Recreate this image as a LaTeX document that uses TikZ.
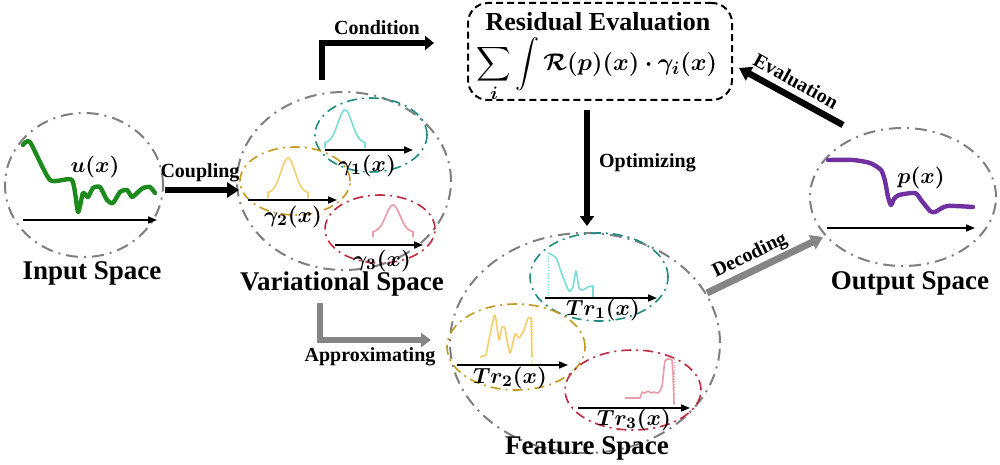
\documentclass[tikz,border=0pt]{standalone}
\usepackage{fontspec}
\setmainfont{Liberation Serif}
\usepackage{amsmath,bm}
\usetikzlibrary{arrows.meta,shapes.geometric}
\definecolor{dgray}{HTML}{7F7F7F}
\definecolor{agray}{HTML}{858585}
\definecolor{tealD}{HTML}{1E8C80}
\definecolor{tealL}{HTML}{7ADDD3}
\definecolor{goldD}{HTML}{C49A1E}
\definecolor{goldL}{HTML}{F3CF6C}
\definecolor{redD}{HTML}{C0283E}
\definecolor{redL}{HTML}{EB9AA8}
\definecolor{grn}{HTML}{1E8A1E}
\definecolor{purp}{HTML}{7030A0}
\begin{document}
\begin{tikzpicture}[x=0.5pt,y=-0.5pt,
  spaceell/.style={ellipse, inner sep=0pt, draw=dgray, line width=1pt, dash pattern=on 6pt off 3pt on 1pt off 3pt},
  subell/.style={ellipse, inner sep=0pt, line width=0.8pt, dash pattern=on 5pt off 2.5pt on 1pt off 2.5pt},
  axis/.style={-{Triangle[length=4.5pt,width=3.5pt]}, line width=0.8pt},
  title/.style={font=\fontsize{13.5}{16}\selectfont\bfseries},
  lab/.style={font=\fontsize{10}{12}\selectfont\bfseries},
  mlab/.style={font=\fontsize{11}{13}\selectfont},
  bigarrow/.style={line width=3pt, -{Triangle[length=6pt,width=7.5pt]}},
  grayarrow/.style={line width=3pt, draw=agray, -{Triangle[length=5pt,width=7pt]}, color=agray},
  thin curve/.style={line width=0.8pt, line join=round},
  guide/.style={line width=0.4pt, densely dotted}
]
\useasboundingbox (0,0) rectangle (1000,465);

% ---------- Input space ----------
\node[spaceell, minimum width=79pt, minimum height=72pt] (inp) at (84,185) {};
\draw[grn, line width=2.2pt, line join=round, line cap=round] plot[smooth, tension=0.35] coordinates
 {(23,145) (30,142) (50,180) (72,180) (78,212) (83,193) (88,197) (93,188) (100,187) (107,200) (113,203) (120,192) (127,190) (132,197) (137,193) (143,188) (150,187) (155,193)};
\coordinate (inA) at (23,220); \coordinate (inB) at (157,220);
\draw[axis] (inA) -- (inB);
\node[mlab] (ulab) at (95,167) {$\bm{u(x)}$};
\node[title] (inT) at (92,273) {Input Space};

% ---------- Variational space ----------
\node[spaceell, minimum width=107pt, minimum height=89pt] (var) at (344,181) {};
\node[subell, draw=tealD, minimum width=56pt, minimum height=37pt] (g1) at (371,135) {};
\node[subell, draw=goldD, minimum width=55pt, minimum height=34pt] (g2) at (295,181) {};
\node[subell, draw=redD, minimum width=55pt, minimum height=34pt] (g3) at (380,229) {};
% bells
\draw[tealL, thin curve] (325,148) -- (325,143) -- plot[domain=-20:20, samples=41] ({345+\x},{143-33*exp(-(\x/10)^2)}) -- (365,148);
\draw[goldL, thin curve] (268,198) -- (268,193) -- plot[domain=-20:20, samples=41] ({288+\x},{193-35*exp(-(\x/10)^2)}) -- (308,198);
\draw[redL, thin curve] (373,237) -- (373,232) -- plot[domain=-20:20, samples=41] ({393+\x},{232-27*exp(-(\x/10)^2)}) -- (413,237);
\coordinate (a1s) at (325,150); \coordinate (a1e) at (413,150);
\coordinate (a2s) at (248,200); \coordinate (a2e) at (337,200);
\coordinate (a3s) at (335,245); \coordinate (a3e) at (423,245);
\draw[axis] (a1s) -- (a1e);
\draw[axis] (a2s) -- (a2e);
\draw[axis] (a3s) -- (a3e);
\node[mlab] (g1l) at (367,166) {$\bm{\gamma_1(x)}$};
\node[mlab] (g2l) at (293,217) {$\bm{\gamma_2(x)}$};
\node[mlab] (g3l) at (382,261) {$\bm{\gamma_3(x)}$};
\node[title] (varT) at (342,284) {Variational Space};

% ---------- Residual evaluation ----------
\node[draw, line width=1pt, dash pattern=on 3.5pt off 2pt, rounded corners=10pt, minimum width=132pt, minimum height=48.5pt] (resid) at (600,51.5) {};
\node[font=\fontsize{13}{15}\selectfont\bfseries] (residT) at (598,22) {Residual Evaluation};
\node[font=\fontsize{12.5}{14}\selectfont, inner sep=0pt] (formula) at (597,70) {$\displaystyle\sum_{\bm{i}}\int \bm{\mathcal{R}(p)(x)\cdot\gamma_i(x)}$};

% ---------- Feature space ----------
\node[spaceell, minimum width=135pt, minimum height=110pt] (feat) at (585,343) {};
\node[subell, draw=tealD, minimum width=69pt, minimum height=44pt] (t1) at (599,277) {};
\node[subell, draw=goldD, minimum width=69pt, minimum height=43pt] (t2) at (516,347) {};
\node[subell, draw=redD, minimum width=68pt, minimum height=40pt] (t3) at (633,390) {};
% Tr1
\draw[tealL, guide] (548,253) -- (548,297);
\draw[tealL, guide] (593,286) -- (593,297);
\draw[tealL, thin curve] plot[smooth, tension=0.4] coordinates
 {(548,253) (556,258) (563,277) (569,291) (573,287) (576,271) (579,288) (583,290) (588,287) (593,286)} -- (593,297);
% Tr2
\draw[goldL, guide] (532,318) -- (532,363);
\draw[goldL, thin curve] (480,357) -- plot[smooth, tension=0.4] coordinates
 {(486,355) (491,330) (495,315) (499,340) (502,327) (505,329) (510,353) (515,334) (519,338) (524,330) (528,318) (531,318)} -- (532,357);
% Tr3
\draw[redL, guide] (674,359) -- (674,405);
\draw[redL, thin curve] (625,398) -- (640,398) -- plot[smooth, tension=0.4] coordinates
 {(642,392) (645,393) (648,391) (651,393) (654,392) (658,393) (662,386) (665,361) (670,359) (672,360)} -- (673,373) -- (674,404);
\coordinate (b1s) at (545,298); \coordinate (b1e) at (657,298);
\coordinate (b2s) at (457,365); \coordinate (b2e) at (568,365);
\coordinate (b3s) at (578,408); \coordinate (b3e) at (690,408);
\draw[axis] (b1s) -- (b1e);
\draw[axis] (b2s) -- (b2e);
\draw[axis] (b3s) -- (b3e);
\node[mlab] (t1l) at (603,310) {$\bm{Tr_1(x)}$};
\node[mlab] (t2l) at (510,378) {$\bm{Tr_2(x)}$};
\node[mlab] (t3l) at (634,420) {$\bm{Tr_3(x)}$};
\node[title] (featT) at (587,448) {Feature Space};

% ---------- Output space ----------
\node[spaceell, minimum width=93pt, minimum height=69pt] (out) at (903,197) {};
\draw[purp, line width=2.2pt, line join=round, line cap=round] plot[smooth, tension=0.4] coordinates
 {(828,160) (853,160) (870,163) (881,170) (885,181) (888,197) (891,205) (894,199) (899,195) (915,193) (921,200) (930,211) (935,212) (947,206) (973,207)};
\coordinate (oA) at (827,228); \coordinate (oB) at (975,228);
\draw[axis] (oA) -- (oB);
\node[mlab] (plab) at (921,178) {$\bm{p(x)}$};
\node[title] (outT) at (910,283) {Output Space};

% ---------- Connectors ----------
\coordinate (cpS) at (165,190); \coordinate (cpE) at (239,190);
\draw[bigarrow] (cpS) -- (cpE);
\node[lab] (cpL) at (200,173) {Coupling};

\coordinate (coS) at (322,80); \coordinate (coE) at (434,43);
\draw[line width=3pt, -{Triangle[length=4.5pt,width=7pt]}] (coS) |- (coE);
\node[lab] (coL) at (377,28) {Condition};

\coordinate (evS) at (843,125); \coordinate (evE) at (739,68);
\draw[line width=3.2pt, -{Triangle[length=6pt,width=7.5pt]}] (evS) -- (evE);
\node[lab, rotate=-29] (evL) at (796,81) {Evaluation};

\coordinate (opS) at (587,110); \coordinate (opE) at (587,226);
\draw[line width=3.2pt, -{Triangle[length=5pt,width=7pt]}] (opS) -- (opE);
\node[lab, anchor=west] (opL) at (592,163) {Optimizing};

\coordinate (apS) at (320,303); \coordinate (apE) at (431,340);
\draw[grayarrow] (apS) |- (apE);
\node[lab] (apL) at (370,357) {Approximating};

\coordinate (deS) at (707,293); \coordinate (deE) at (823,237);
\draw[line width=3.5pt, agray, -{Triangle[length=6pt,width=7.5pt]}] (deS) -- (deE);
\node[lab, rotate=26] (deL) at (750,256) {Decoding};
\end{tikzpicture}
\end{document}
